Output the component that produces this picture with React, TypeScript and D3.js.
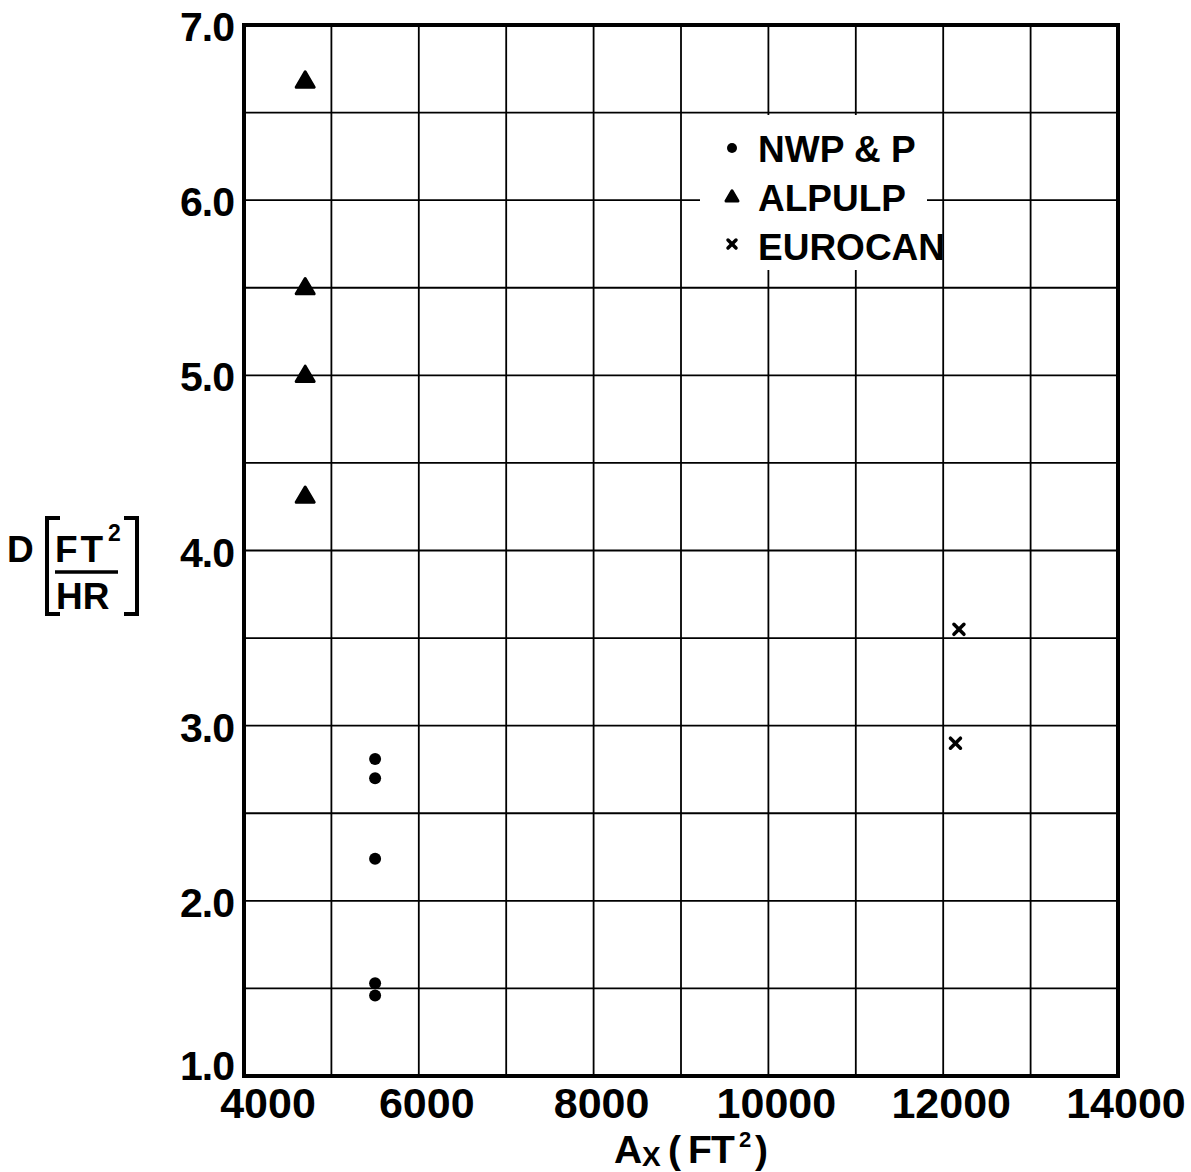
import React from "react";
import * as d3 from "d3";

const nwpX = [5500, 5500, 5500, 5500, 5500];
const nwpY = [2.81, 2.70, 2.24, 1.53, 1.46];
const alpulpX = [4700, 4700, 4700, 4700];
const alpulpY = [6.68, 5.50, 5.00, 4.31];
const eurocanX = [12180, 12140];
const eurocanY = [3.55, 2.90];

const xTickLabels = [4000, 6000, 8000, 10000, 12000, 14000];
const yTickLabels = [1.0, 2.0, 3.0, 4.0, 5.0, 6.0, 7.0];
const xGrid = d3.range(4000, 14001, 1000);
const yGrid = d3.range(1.0, 7.01, 0.5);
const legendItems = ["NWP & P", "ALPULP", "EUROCAN"];

const W = 1191;
const H = 1172;
const left = 244;
const right = 1118;
const top = 25;
const bottom = 1076;

const FONT = "'Liberation Sans', Arial, sans-serif";

function Triangle({ x, y, s = 9 }: { x: number; y: number; s?: number }) {
  const h = s * 1.7;
  const p = d3.path();
  p.moveTo(x, y - h * 0.6);
  p.lineTo(x + s, y + h * 0.4);
  p.lineTo(x - s, y + h * 0.4);
  p.closePath();
  return <path d={p.toString()} fill="#000" stroke="#000" strokeWidth={3} strokeLinejoin="round" />;
}

function Cross({ x, y, s = 5 }: { x: number; y: number; s?: number }) {
  return (
    <g stroke="#000" strokeWidth={3.5} strokeLinecap="round">
      <line x1={x - s} y1={y - s} x2={x + s} y2={y + s} />
      <line x1={x - s} y1={y + s} x2={x + s} y2={y - s} />
    </g>
  );
}

export default function App() {
  const x = d3.scaleLinear().domain([4000, 14000]).range([left, right]);
  const y = d3.scaleLinear().domain([1.0, 7.0]).range([bottom, top]);

  return (
    <svg width={W} height={H} style={{ display: "block", position: "absolute", left: 0, top: 0 }} fontFamily={FONT}>
      <rect x={0} y={0} width={W} height={H} fill="#fff" />
      {/* grid */}
      {xGrid.map((v) => (
        <line key={"gx" + v} x1={x(v)} x2={x(v)} y1={top} y2={bottom} stroke="#000" strokeWidth={1.8} />
      ))}
      {yGrid.map((v) => (
        <line key={"gy" + v} x1={left} x2={right} y1={y(v)} y2={y(v)} stroke="#000" strokeWidth={1.8} />
      ))}
      {/* frame */}
      <rect x={left} y={top} width={right - left} height={bottom - top} fill="none" stroke="#000" strokeWidth={4} />

      {/* legend box */}
      <rect x={700} y={115} width={227} height={155} fill="#fff" />
      <g fontSize={37} fill="#000" fontWeight="bold">
        {legendItems.map((t, i) => (
          <text key={t} x={758} y={162 + i * 49}>{t}</text>
        ))}
      </g>
      <circle cx={732} cy={148} r={5} fill="#000" />
      <Triangle x={732} y={197} s={6} />
      <Cross x={732} y={244} s={4} />

      {/* data */}
      {nwpX.map((v, i) => (
        <circle key={"n" + i} cx={x(v)} cy={y(nwpY[i])} r={6} fill="#000" />
      ))}
      {alpulpX.map((v, i) => (
        <Triangle key={"a" + i} x={x(v)} y={y(alpulpY[i])} />
      ))}
      {eurocanX.map((v, i) => (
        <Cross key={"e" + i} x={x(v)} y={y(eurocanY[i])} />
      ))}

      {/* y tick labels */}
      <g fontSize={41} fill="#000" textAnchor="end" fontWeight="bold">
        {yTickLabels.map((v) => (
          <text key={"yl" + v} x={234} y={y(v)} dy={v === 1.0 ? 4 : 16} letterSpacing={-1}>
            {v.toFixed(1)}
          </text>
        ))}
      </g>
      {/* x tick labels */}
      <g fontSize={43} fill="#000" textAnchor="middle" fontWeight="bold">
        {xTickLabels.map((v) => (
          <text key={"xl" + v} x={x(v)} dx={v === 4000 ? 24 : 8} y={1118}>
            {v}
          </text>
        ))}
      </g>
      {/* x title */}
      <g fill="#000" fontWeight="bold">
        <text x={614} y={1163} fontSize={39}>A</text>
        <text x={642} y={1166} fontSize={28}>X</text>
        <text x={668} y={1163} fontSize={39}>(</text>
        <text x={688} y={1163} fontSize={39}>F</text>
        <text x={711} y={1163} fontSize={39}>T</text>
        <text x={739} y={1147} fontSize={22}>2</text>
        <text x={755} y={1163} fontSize={39}>)</text>
      </g>

      {/* y title */}
      <g fill="#000" fontWeight="bold">
        <text x={7} y={562} fontSize={37}>D</text>
        <text x={55} y={562} fontSize={37} letterSpacing={3}>FT</text>
        <text x={108} y={541} fontSize={23}>2</text>
        <text x={56} y={609} fontSize={37}>HR</text>
      </g>
      <path d="M60,518 L47,518 L47,614 L60,614" fill="none" stroke="#000" strokeWidth={4} />
      <path d="M124,518 L137,518 L137,614 L124,614" fill="none" stroke="#000" strokeWidth={4} />
      <line x1={55} x2={118} y1={572} y2={572} stroke="#000" strokeWidth={3.5} />
    </svg>
  );
}
